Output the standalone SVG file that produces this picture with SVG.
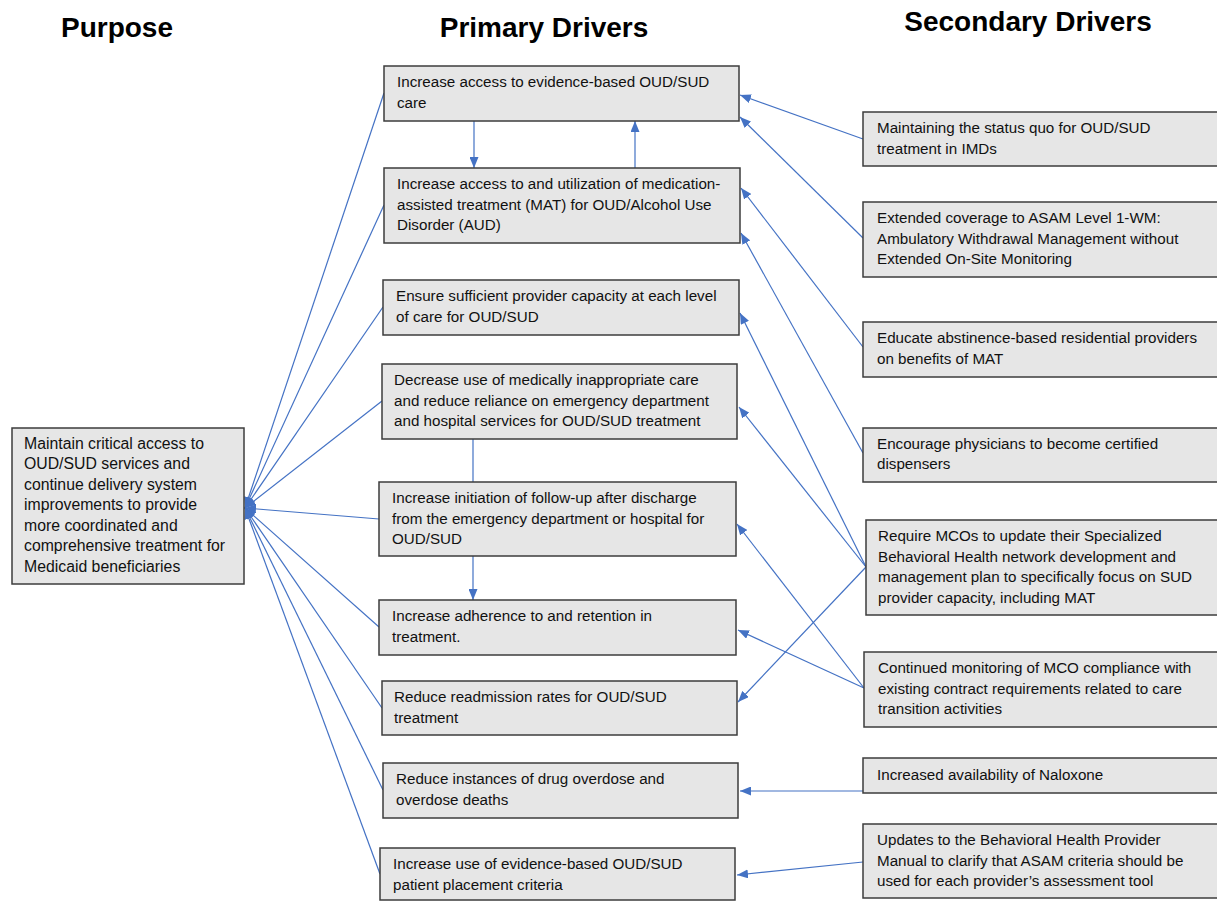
<svg xmlns="http://www.w3.org/2000/svg" width="1217" height="901" viewBox="0 0 1217 901">
<style>
.box{fill:#e6e6e6;stroke:#3c3c3c;stroke-width:1.5}
.t{font-family:"Liberation Sans",Arial,sans-serif;font-size:15.2px;fill:#111}
.tp{font-size:15.8px}
.h{font-family:"Liberation Sans",Arial,sans-serif;font-size:28px;font-weight:bold;fill:#000;text-anchor:middle}
.c{stroke:#4472C4;stroke-width:1.2;fill:none}
.a{marker-end:url(#arr)}
</style>
<defs>
<marker id="arr" markerUnits="userSpaceOnUse" markerWidth="11" markerHeight="9" refX="11" refY="4.5" orient="auto">
<path d="M0,0 L11,4.5 L0,9 z" fill="#4472C4"/>
</marker>
</defs>
<rect width="1217" height="901" fill="#fff"/>
<g id="titles">
<text class="h" x="117" y="37">Purpose</text>
<text class="h" x="544" y="37">Primary Drivers</text>
<text class="h" x="1028" y="31">Secondary Drivers</text>
</g>
<g id="connectors">
<line class="c a" x1="474" y1="121" x2="474" y2="168"/>
<line class="c a" x1="635" y1="168" x2="635" y2="121"/>
<line class="c" x1="473" y1="439" x2="473" y2="482"/>
<line class="c a" x1="473" y1="556" x2="473" y2="600"/>
<line class="c a" x1="384" y1="93" x2="245" y2="508"/>
<line class="c a" x1="384" y1="205" x2="245" y2="508"/>
<line class="c a" x1="383" y1="307" x2="245" y2="508"/>
<line class="c a" x1="382" y1="401" x2="245" y2="508"/>
<line class="c a" x1="379" y1="519" x2="245" y2="508"/>
<line class="c a" x1="379" y1="627" x2="245" y2="508"/>
<line class="c a" x1="382" y1="708" x2="245" y2="508"/>
<line class="c a" x1="383" y1="790" x2="245" y2="508"/>
<line class="c a" x1="380" y1="874" x2="245" y2="508"/>
<line class="c a" x1="863" y1="139" x2="740" y2="95"/>
<line class="c a" x1="863" y1="238" x2="740" y2="117"/>
<line class="c a" x1="863" y1="347" x2="741" y2="188"/>
<line class="c a" x1="863" y1="453" x2="741" y2="233"/>
<line class="c a" x1="866" y1="567" x2="740" y2="313"/>
<line class="c a" x1="866" y1="567" x2="739" y2="407"/>
<line class="c a" x1="866" y1="567" x2="738" y2="702"/>
<line class="c a" x1="864" y1="688" x2="737" y2="524"/>
<line class="c a" x1="864" y1="688" x2="738" y2="630"/>
<line class="c a" x1="863" y1="791" x2="740" y2="791"/>
<line class="c a" x1="863" y1="862" x2="737" y2="875"/>
</g>
<g id="purpose">
<rect class="box" x="12" y="428" width="232" height="156"/>
<text class="t tp"><tspan x="24" y="448.5">Maintain critical access to</tspan><tspan x="24" y="469">OUD/SUD services and</tspan><tspan x="24" y="489.5">continue delivery system</tspan><tspan x="24" y="510">improvements to provide</tspan><tspan x="24" y="530.5">more coordinated and</tspan><tspan x="24" y="551">comprehensive treatment for</tspan><tspan x="24" y="571.5">Medicaid beneficiaries</tspan></text>
</g>
<g id="p1">
<rect class="box" x="384" y="66" width="355" height="55"/>
<text class="t"><tspan x="397" y="87">Increase access to evidence-based OUD/SUD</tspan><tspan x="397" y="108">care</tspan></text>
</g>
<g id="p2">
<rect class="box" x="384" y="168" width="356" height="75"/>
<text class="t"><tspan x="397" y="189">Increase access to and utilization of medication-</tspan><tspan x="397" y="209.5">assisted treatment (MAT) for OUD/Alcohol Use</tspan><tspan x="397" y="230">Disorder (AUD)</tspan></text>
</g>
<g id="p3">
<rect class="box" x="383" y="280" width="356" height="55"/>
<text class="t"><tspan x="396" y="301">Ensure sufficient provider capacity at each level</tspan><tspan x="396" y="322">of care for OUD/SUD</tspan></text>
</g>
<g id="p4">
<rect class="box" x="382" y="364" width="355" height="75"/>
<text class="t"><tspan x="394" y="385">Decrease use of medically inappropriate care</tspan><tspan x="394" y="405.5">and reduce reliance on emergency department</tspan><tspan x="394" y="426">and hospital services for OUD/SUD treatment</tspan></text>
</g>
<g id="p5">
<rect class="box" x="379" y="482" width="357" height="74"/>
<text class="t"><tspan x="392" y="503">Increase initiation of follow-up after discharge</tspan><tspan x="392" y="523.5">from the emergency department or hospital for</tspan><tspan x="392" y="544">OUD/SUD</tspan></text>
</g>
<g id="p6">
<rect class="box" x="379" y="600" width="357" height="55"/>
<text class="t"><tspan x="392" y="621">Increase adherence to and retention in</tspan><tspan x="392" y="641.5">treatment.</tspan></text>
</g>
<g id="p7">
<rect class="box" x="382" y="681" width="355" height="54"/>
<text class="t"><tspan x="394" y="702">Reduce readmission rates for OUD/SUD</tspan><tspan x="394" y="722.5">treatment</tspan></text>
</g>
<g id="p8">
<rect class="box" x="383" y="763" width="355" height="55"/>
<text class="t"><tspan x="396" y="784">Reduce instances of drug overdose and</tspan><tspan x="396" y="805">overdose deaths</tspan></text>
</g>
<g id="p9">
<rect class="box" x="380" y="848" width="355" height="52"/>
<text class="t"><tspan x="393" y="869">Increase use of evidence-based OUD/SUD</tspan><tspan x="393" y="890">patient placement criteria</tspan></text>
</g>
<g id="s1">
<rect class="box" x="863" y="112" width="370" height="54"/>
<text class="t"><tspan x="877" y="133">Maintaining the status quo for OUD/SUD</tspan><tspan x="877" y="153.5">treatment in IMDs</tspan></text>
</g>
<g id="s2">
<rect class="box" x="863" y="202" width="370" height="75"/>
<text class="t"><tspan x="877" y="223">Extended coverage to ASAM Level 1-WM:</tspan><tspan x="877" y="243.5">Ambulatory Withdrawal Management without</tspan><tspan x="877" y="264">Extended On-Site Monitoring</tspan></text>
</g>
<g id="s3">
<rect class="box" x="863" y="322" width="370" height="55"/>
<text class="t"><tspan x="877" y="343">Educate abstinence-based residential providers</tspan><tspan x="877" y="363.5">on benefits of MAT</tspan></text>
</g>
<g id="s4">
<rect class="box" x="863" y="428" width="370" height="54"/>
<text class="t"><tspan x="877" y="448.5">Encourage physicians to become certified</tspan><tspan x="877" y="469">dispensers</tspan></text>
</g>
<g id="s5">
<rect class="box" x="866" y="520" width="370" height="95"/>
<text class="t"><tspan x="878" y="541">Require MCOs to update their Specialized</tspan><tspan x="878" y="561.5">Behavioral Health network development and</tspan><tspan x="878" y="582">management plan to specifically focus on SUD</tspan><tspan x="878" y="602.5">provider capacity, including MAT</tspan></text>
</g>
<g id="s6">
<rect class="box" x="864" y="652" width="370" height="75"/>
<text class="t"><tspan x="878" y="673">Continued monitoring of MCO compliance with</tspan><tspan x="878" y="693.5">existing contract requirements related to care</tspan><tspan x="878" y="714">transition activities</tspan></text>
</g>
<g id="s7">
<rect class="box" x="863" y="758" width="370" height="35"/>
<text class="t"><tspan x="877" y="780">Increased availability of Naloxone</tspan></text>
</g>
<g id="s8">
<rect class="box" x="863" y="824" width="370" height="74"/>
<text class="t"><tspan x="877" y="845">Updates to the Behavioral Health Provider</tspan><tspan x="877" y="865.5">Manual to clarify that ASAM criteria should be</tspan><tspan x="877" y="886">used for each provider’s assessment tool</tspan></text>
</g>
</svg>
